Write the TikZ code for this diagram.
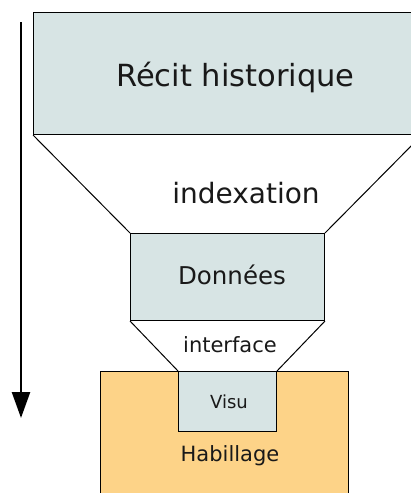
\documentclass[tikz,border=0pt]{standalone}
\usepackage{fontspec}
\setmainfont{DejaVu Sans}
\usetikzlibrary{arrows.meta}
\definecolor{boxgrey}{HTML}{D7E4E4}
\definecolor{boxorange}{HTML}{FDD388}
\begin{document}
\begin{tikzpicture}[x=1pt,y=-1pt,
  blk/.style={draw=black,line width=1pt,inner sep=0pt,anchor=north west},
  lbl/.style={inner sep=0pt,text=black!90}]
\useasboundingbox (0,0) rectangle (410,493);
% boxes
\node[blk,fill=boxgrey,minimum width=388pt,minimum height=122pt] (recit) at (33,12) {};
\node[blk,fill=boxorange,minimum width=248pt,minimum height=140pt] (habill) at (100,371) {};
\node[blk,fill=boxgrey,minimum width=194pt,minimum height=87pt] (donnees) at (130,233) {};
\node[blk,fill=boxgrey,minimum width=98pt,minimum height=60pt] (visu) at (178,371) {};
% funnel lines
\draw[line width=1pt] (recit.south west) -- (donnees.north west);
\draw[line width=1pt] (recit.south east) -- (donnees.north east);
\draw[line width=1pt] (donnees.south west) -- (visu.north west);
\draw[line width=1pt] (donnees.south east) -- (visu.north east);
% labels
\node[lbl,font=\fontsize{30.5}{36}\selectfont] (trecit) at (235.5,77) {Récit historique};
\node[lbl,font=\fontsize{28}{33}\selectfont] (tindex) at (246,193) {indexation};
\node[lbl,font=\fontsize{24.5}{29}\selectfont] (tdonnees) at (232,275) {Données};
\node[lbl,font=\fontsize{21}{25}\selectfont] (tinter) at (230,345) {interface};
\node[lbl,font=\fontsize{18}{22}\selectfont] (tvisu) at (229,402) {Visu};
\node[lbl,font=\fontsize{21}{25}\selectfont] (thabill) at (230,456) {Habillage};
% arrow
\coordinate (atop) at (21,22);
\coordinate (abot) at (21,418);
\draw[line width=2.5pt,-{Triangle[length=26pt,width=18pt]}] (atop) -- (abot);
\end{tikzpicture}
\end{document}
